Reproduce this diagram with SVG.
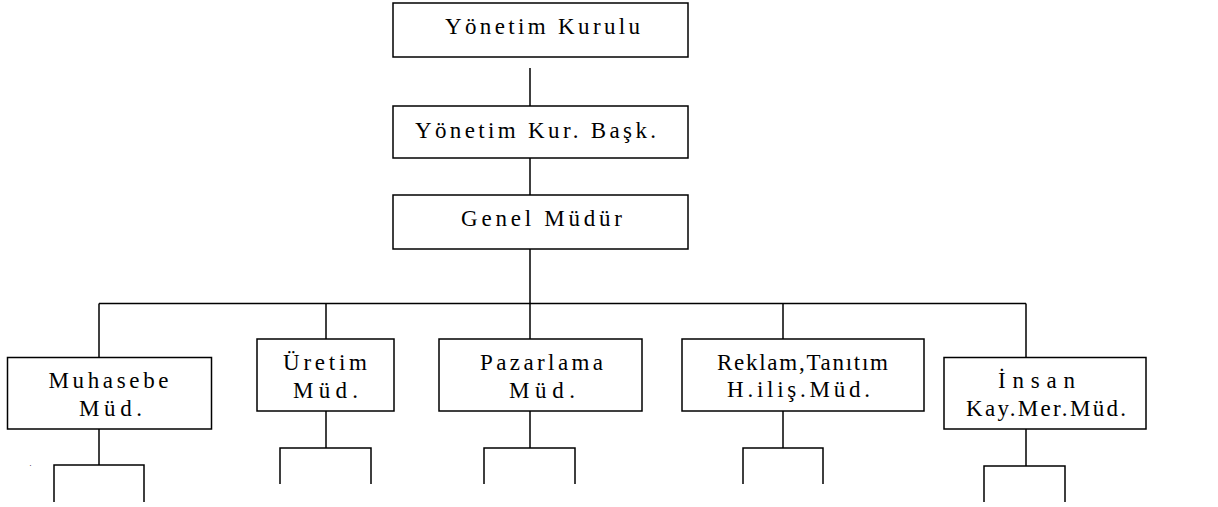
<svg xmlns="http://www.w3.org/2000/svg" width="1218" height="507" viewBox="0 0 1218 507">
  <style>
    .box { fill: #ffffff; stroke: #000000; stroke-width: 1.5; }
    .wire { fill: none; stroke: #000000; stroke-width: 1.5; }
  </style>
  <rect width="1218" height="507" fill="#ffffff"/>

  <!-- connectors -->
  <g id="connectors" class="wire">
    <path d="M530,68 V106"/>
    <path d="M530,158 V195"/>
    <path d="M530,249 V339"/>
    <path d="M99,303.5 H1026"/>
    <path d="M99,303.5 V357.5"/>
    <path d="M326,303.5 V339"/>
    <path d="M783,303.5 V339"/>
    <path d="M1026,303.5 V357.5"/>
    <!-- sub-branches below the departments -->
    <path d="M99,429 V465"/>
    <path d="M54,502 V465 H144 V502"/>
    <path d="M326,411 V448"/>
    <path d="M280,484 V448 H371 V484"/>
    <path d="M530,411 V448"/>
    <path d="M484,484 V448 H575 V484"/>
    <path d="M783,411 V448"/>
    <path d="M743,484 V448 H823 V484"/>
    <path d="M1026,429 V466"/>
    <path d="M984,502 V466 H1065 V502"/>
  </g>

  <g id="nodes" fill="#000000">
    <g id="yonetim-kurulu">
      <rect class="box" x="393" y="3" width="295" height="54"/>
      <text font-family="Liberation Serif, serif" font-size="23" x="445" y="34.3" textLength="195" lengthAdjust="spacing">Yönetim Kurulu</text>
    </g>

    <g id="yonetim-kur-bask">
      <rect class="box" x="393" y="106" width="295" height="52"/>
      <text font-family="Liberation Serif, serif" font-size="23" x="415" y="138.3" textLength="241" lengthAdjust="spacing">Yönetim Kur. Başk.</text>
    </g>

    <g id="genel-mudur">
      <rect class="box" x="393" y="195" width="295" height="54"/>
      <text font-family="Liberation Serif, serif" font-size="23" x="461" y="225.7" textLength="161" lengthAdjust="spacing">Genel Müdür</text>
    </g>

    <g id="muhasebe">
      <rect class="box" x="7.5" y="357.5" width="204" height="71.5"/>
      <text font-family="Liberation Serif, serif" font-size="23" x="48.5" y="387.7" textLength="120" lengthAdjust="spacing">Muhasebe</text>
      <text font-family="Liberation Serif, serif" font-size="23" x="79" y="416" textLength="63" lengthAdjust="spacing">Müd.</text>
    </g>

    <g id="uretim">
      <rect class="box" x="257" y="339" width="137" height="72"/>
      <text font-family="Liberation Serif, serif" font-size="23" x="283" y="370" textLength="84" lengthAdjust="spacing">Üretim</text>
      <text font-family="Liberation Serif, serif" font-size="23" x="293" y="398.3" textLength="65" lengthAdjust="spacing">Müd.</text>
    </g>

    <g id="pazarlama">
      <rect class="box" x="439" y="339" width="203" height="72"/>
      <text font-family="Liberation Serif, serif" font-size="23" x="480" y="370" textLength="123" lengthAdjust="spacing">Pazarlama</text>
      <text font-family="Liberation Serif, serif" font-size="23" x="509" y="398.3" textLength="66" lengthAdjust="spacing">Müd.</text>
    </g>

    <g id="reklam">
      <rect class="box" x="682" y="339" width="242" height="72"/>
      <text font-family="Liberation Serif, serif" font-size="23" x="717" y="370" textLength="171" lengthAdjust="spacing">Reklam,Tanıtım</text>
      <text font-family="Liberation Serif, serif" font-size="23" x="727" y="397.3" textLength="143" lengthAdjust="spacing">H.iliş.Müd.</text>
    </g>

    <g id="insan">
      <rect class="box" x="944" y="357.5" width="202" height="71.5"/>
      <text font-family="Liberation Serif, serif" font-size="23" x="998" y="388.3" textLength="77" lengthAdjust="spacing">İnsan</text>
      <text font-family="Liberation Serif, serif" font-size="23" x="966" y="416" textLength="160" lengthAdjust="spacing">Kay.Mer.Müd.</text>
    </g>
  </g>

  <text x="29.5" y="466" font-family="Liberation Serif, serif" font-size="8" fill="#000000">.</text>
</svg>
